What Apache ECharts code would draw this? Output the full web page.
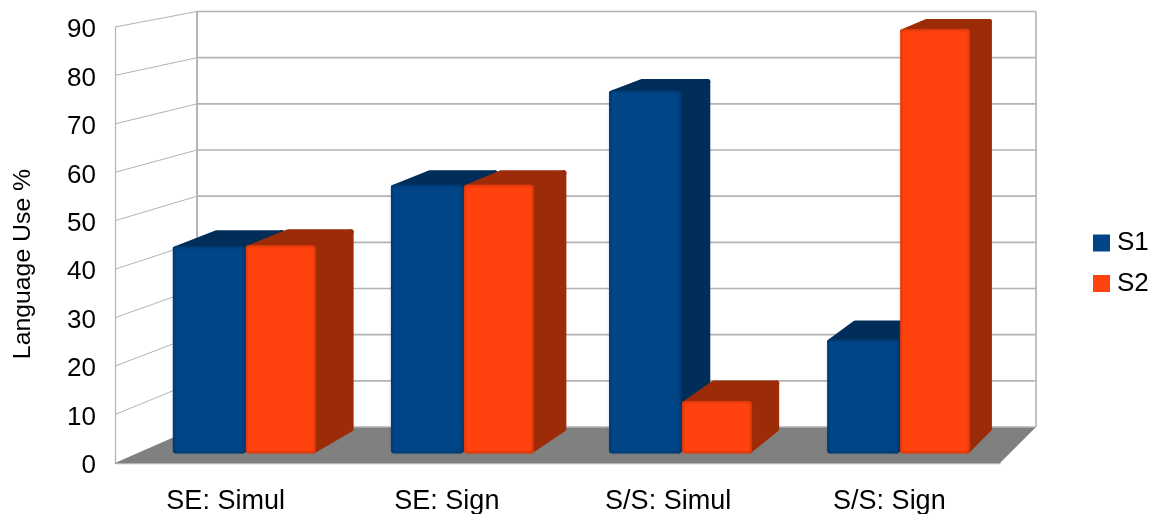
<!DOCTYPE html>
<html>
<head>
<meta charset="utf-8">
<style>html,body{margin:0;padding:0;background:#fff}#chart{width:1155px;height:514px}</style>
<script src="https://cdn.jsdelivr.net/npm/echarts@6/dist/echarts.min.js"></script>
</head>
<body>
<div id="chart"></div>
<script>
const categories = ['SE: Simul', 'SE: Sign', 'S/S: Simul', 'S/S: Sign'];
const s1Values = [43.4, 56.3, 76, 23.9];
const s2Values = [43.6, 56.3, 11, 88.9];
const wallTicks = [0, 10, 20, 30, 40, 50, 60, 70, 80, 90];

const FONT = '"Liberation Sans", Arial, sans-serif';
const GRID_LINE = '#b3b3b3';

// One-point perspective: the axes sit on the front plane, the bars a little
// behind it, and the grid wall at the far end of the box.
const wallX = x => x + 0.052 * (1693 - x);
const wallY = y => y - 0.047 * (y + 303);
const barFrontX = x => 0.9858 * x + 22.6;
const barFrontY = y => 0.9855 * y - 2.8;
const barBackX = x => x + 0.0245 * (1867 - x);
const barBackY = y => y - 0.0284 * (y + 322);

function renderWall(params, api) {
  const v = api.value(0);
  const sys = params.coordSys;
  const y = api.coord([0, v])[1];
  const left = sys.x, right = sys.x + sys.width;
  const line = { stroke: GRID_LINE, lineWidth: 1.6 };
  const children = [];
  if (v === 0) {
    const bottom = sys.y + sys.height, top = sys.y;
    children.push({
      type: 'polygon',
      shape: { points: [[left, bottom], [right, bottom], [wallX(right), wallY(bottom)], [wallX(left), wallY(bottom)]] },
      style: { fill: '#808080' }
    });
    children.push({
      type: 'line',
      shape: { x1: wallX(left), y1: wallY(top), x2: wallX(left), y2: wallY(bottom) },
      style: { stroke: GRID_LINE, lineWidth: 2 }
    });
    children.push({
      type: 'line',
      shape: { x1: wallX(right), y1: wallY(top), x2: wallX(right), y2: wallY(bottom) },
      style: { stroke: GRID_LINE, lineWidth: 1.6 }
    });
  }
  if (v !== 0) {
    children.push({
      type: 'line',
      shape: { x1: left, y1: y, x2: wallX(left), y2: wallY(y) },
      style: { stroke: GRID_LINE, lineWidth: 1 }
    });
  }
  children.push({
    type: 'line',
    shape: { x1: wallX(left), y1: wallY(y), x2: wallX(right), y2: wallY(y) },
    style: line
  });
  return { type: 'group', children };
}

function barRenderer(side, widthShare, main, edge, dark) {
  return function (params, api) {
    const idx = api.value(0);
    const top = api.coord([idx, api.value(1)]);
    const base = api.coord([idx, 0]);
    const band = api.size([1, 0])[0];
    const cx = barFrontX(top[0]);
    const w = band * 0.9858 * widthShare;
    const x0 = side < 0 ? cx - w : cx + 0.8;
    const x1 = side < 0 ? cx : cx + 0.8 + w;
    const yt = barFrontY(top[1]);
    const yb = barFrontY(base[1]);
    // Thick round-joined stroke gives the soft corners of the extruded faces.
    const inset = 2.5;
    const hull = { fill: dark, stroke: dark, lineWidth: inset * 2, lineJoin: 'round' };
    const backLeft = barBackX(x0) + inset;
    const backRight = barBackX(x1) - inset;
    const backTop = barBackY(yt) + inset;
    return {
      type: 'group',
      children: [
        {
          type: 'polygon',
          shape: { points: [[x0 + inset, yt + inset], [x1 - inset, yt + inset], [backRight, backTop], [backLeft, backTop]] },
          style: hull
        },
        {
          type: 'polygon',
          shape: { points: [[x1 - inset, yt + inset], [x1 - inset, yb - inset], [backRight, barBackY(yb) - inset], [backRight, backTop]] },
          style: hull
        },
        {
          type: 'rect',
          shape: { x: x0, y: yt, width: x1 - x0, height: yb - yt, r: 3 },
          style: { fill: edge }
        },
        {
          type: 'rect',
          shape: { x: x0 + 2.5, y: yt + 2.5, width: x1 - x0 - 5, height: yb - yt - 5, r: 1 },
          style: { fill: main, shadowBlur: 4, shadowColor: main }
        }
      ]
    };
  };
}

const chart = echarts.init(document.getElementById('chart'), null, { renderer: 'canvas' });
chart.setOption({
  animation: false,
  backgroundColor: '#ffffff',
  textStyle: { fontFamily: FONT },
  grid: { left: 115, right: 155, top: 27, bottom: 51, containLabel: false, outerBoundsMode: 'none' },
  legend: {
    data: ['S1', 'S2'],
    orient: 'vertical',
    left: 1093,
    top: 230,
    padding: 0,
    icon: 'rect',
    itemWidth: 17,
    itemHeight: 17,
    itemGap: 14.5,
    textStyle: { fontFamily: FONT, fontSize: 26, color: '#000', padding: [0, 0, 0, 2] },
    selectedMode: false
  },
  xAxis: {
    type: 'category',
    data: categories,
    axisLine: { show: true, lineStyle: { color: GRID_LINE, width: 1.4 } },
    axisTick: { show: false },
    axisLabel: { color: '#000', fontFamily: FONT, fontSize: 27, margin: 25 }
  },
  yAxis: {
    type: 'value',
    min: 0,
    max: 90,
    interval: 10,
    name: 'Language Use %',
    nameLocation: 'middle',
    nameGap: 79,
    nameTextStyle: { color: '#000', fontFamily: FONT, fontSize: 24.8, padding: [0, 38, 0, 0] },
    axisLine: { show: true, lineStyle: { color: GRID_LINE, width: 1.2 } },
    axisTick: { show: false },
    splitLine: { show: false },
    axisLabel: { color: '#000', fontFamily: FONT, fontSize: 26, lineHeight: 26, margin: 19, verticalAlign: 'top', padding: [-10, 0, 0, 0] }
  },
  series: [
    {
      name: 'walls',
      type: 'custom',
      coordinateSystem: 'cartesian2d',
      silent: true,
      renderItem: renderWall,
      encode: { y: 0 },
      data: wallTicks.map(v => [v]),
      z: 1
    },
    {
      name: 'S1',
      type: 'custom',
      coordinateSystem: 'cartesian2d',
      itemStyle: { color: '#004586' },
      renderItem: barRenderer(-1, 0.331, '#004586', '#003a72', '#002e59'),
      encode: { x: 0, y: 1 },
      data: s1Values.map((v, i) => [i, v]),
      z: 2
    },
    {
      name: 'S2',
      type: 'custom',
      coordinateSystem: 'cartesian2d',
      itemStyle: { color: '#ff420e' },
      renderItem: barRenderer(1, 0.32, '#ff420e', '#dc3a0c', '#9c2b08'),
      encode: { x: 0, y: 1 },
      data: s2Values.map((v, i) => [i, v]),
      z: 3
    }
  ]
});
</script>
</body>
</html>
